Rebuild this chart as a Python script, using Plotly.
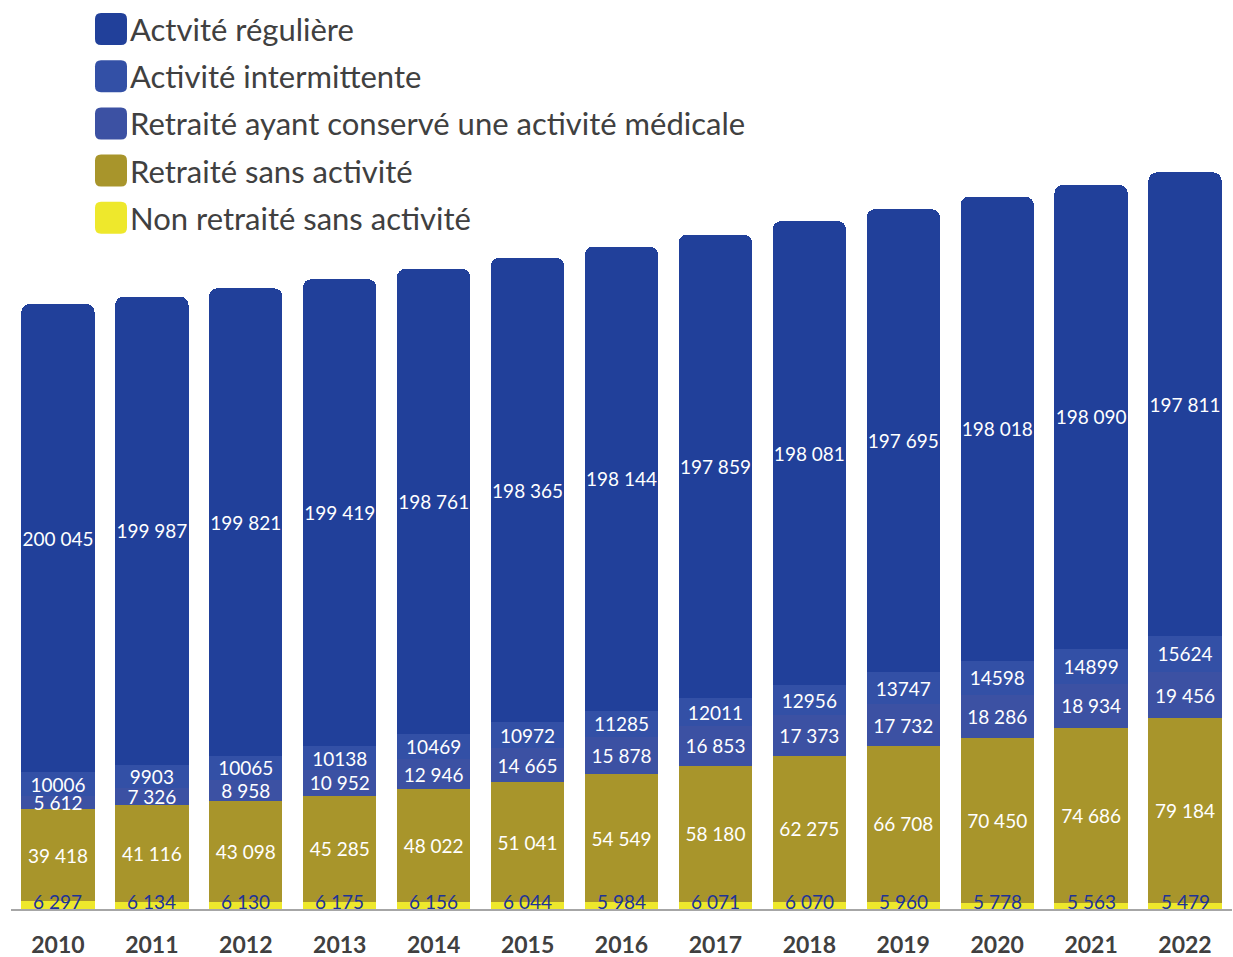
import plotly.graph_objects as go

years = ["2010", "2011", "2012", "2013", "2014", "2015", "2016",
         "2017", "2018", "2019", "2020", "2021", "2022"]

non_retraite_sans_activite = [6297, 6134, 6130, 6175, 6156, 6044, 5984,
                              6071, 6070, 5960, 5778, 5563, 5479]
retraite_sans_activite = [39418, 41116, 43098, 45285, 48022, 51041, 54549,
                          58180, 62275, 66708, 70450, 74686, 79184]
retraite_actif = [5612, 7326, 8958, 10952, 12946, 14665, 15878,
                  16853, 17373, 17732, 18286, 18934, 19456]
activite_intermittente = [10006, 9903, 10065, 10138, 10469, 10972, 11285,
                          12011, 12956, 13747, 14598, 14899, 15624]
activite_reguliere = [200045, 199987, 199821, 199419, 198761, 198365, 198144,
                      197859, 198081, 197695, 198018, 198090, 197811]

C_REG = "#21409A"
C_INT = "#3350A6"
C_RET_ACT = "#3C51A3"
C_RET = "#A8952B"
C_NON = "#EEE82C"

# (name, values, colour, thousands separator in labels)
series = [
    ("Non retraité sans activité", non_retraite_sans_activite, C_NON, True),
    ("Retraité sans activité", retraite_sans_activite, C_RET, True),
    ("Retraité ayant conservé une activité médicale", retraite_actif, C_RET_ACT, True),
    ("Activité intermittente", activite_intermittente, C_INT, False),
    ("Actvité régulière", activite_reguliere, C_REG, True),
]


def fmt(v, grouped):
    s = f"{v:,}"
    return s.replace(",", " ") if grouped else s.replace(",", "")


FONT = "Lato"
Y_MIN, Y_MAX = 3000, 382671
W, H = 1233, 957
ML, MR, MT, MB = 11, 1, 20, 48
PW, PH = W - ML - MR, H - MT - MB

xpos = list(range(len(years)))

fig = go.Figure()

for name, values, color, grouped in series:
    is_bottom = values is non_retraite_sans_activite
    fig.add_trace(go.Bar(
        x=xpos,
        y=values,
        name=name,
        marker=dict(color=color, line=dict(width=0)),
        text=None if is_bottom else [fmt(v, grouped) for v in values],
        textposition="none" if is_bottom else "inside",
        insidetextanchor="middle",
        textangle=0,
        constraintext="none",
        textfont=dict(family=FONT, size=19, color="white"),
        showlegend=False,
        hoverinfo="skip",
    ))

# values of the thin bottom segment, written along the baseline
annotations = []
for xi, v in zip(xpos, non_retraite_sans_activite):
    annotations.append(dict(
        x=xi, y=Y_MIN, xref="x", yref="y",
        text=fmt(v, True), showarrow=False,
        yanchor="bottom", yshift=-6,
        font=dict(family=FONT, size=19, color="#1E3399"),
    ))


def px_x(x):
    return (x - ML) / PW


def px_y(y):
    return (H - MB - y) / PH


# legend drawn by hand: rounded swatches with labels
legend_items = [
    ("Actvité régulière", C_REG),
    ("Activité intermittente", C_INT),
    ("Retraité ayant conservé une activité médicale", C_RET_ACT),
    ("Retraité sans activité", C_RET),
    ("Non retraité sans activité", C_NON),
]
shapes = []
rad = 6
for i, (label, color) in enumerate(legend_items):
    cy = 29 + i * 47.2
    x0, x1, y0, y1 = 95, 127, cy - 16, cy + 16
    pts = [
        ("M", x0 + rad, y0), ("L", x1 - rad, y0), ("Q", x1, y0, x1, y0 + rad),
        ("L", x1, y1 - rad), ("Q", x1, y1, x1 - rad, y1), ("L", x0 + rad, y1),
        ("Q", x0, y1, x0, y1 - rad), ("L", x0, y0 + rad), ("Q", x0, y0, x0 + rad, y0),
    ]
    parts = []
    for p in pts:
        cmd, coords = p[0], p[1:]
        xy = []
        for j in range(0, len(coords), 2):
            xy.append(f"{px_x(coords[j]):.5f},{px_y(coords[j + 1]):.5f}")
        parts.append(cmd + " " + " ".join(xy))
    shapes.append(dict(
        type="path", xref="paper", yref="paper",
        path=" ".join(parts) + " Z",
        fillcolor=color, line=dict(width=0), layer="above",
    ))
    annotations.append(dict(
        x=px_x(128), y=px_y(cy), xref="paper", yref="paper",
        text=label, showarrow=False, xanchor="left", yanchor="middle",
        font=dict(family=FONT, size=31, color="#404040"),
    ))

fig.update_layout(
    width=W, height=H,
    barmode="stack",
    bargap=0.22,
    barcornerradius=8,
    plot_bgcolor="white",
    paper_bgcolor="white",
    margin=dict(l=ML, r=MR, t=MT, b=MB, autoexpand=False),
    uniformtext=dict(mode="show", minsize=19),
    xaxis=dict(
        range=[-0.5, len(years) - 0.5], automargin=False,
        tickmode="array", tickvals=xpos, ticktext=years,
        showline=True, linecolor="#A6A6A6", linewidth=2,
        ticks="", showgrid=False, zeroline=False,
        ticklabelstandoff=14,
        tickfont=dict(family=FONT, size=23, color="#404040", weight="bold"),
    ),
    yaxis=dict(
        range=[Y_MIN, Y_MAX], visible=False, showgrid=False, zeroline=False,
    ),
    shapes=shapes,
    annotations=annotations,
)

fig.write_html("out.html")
